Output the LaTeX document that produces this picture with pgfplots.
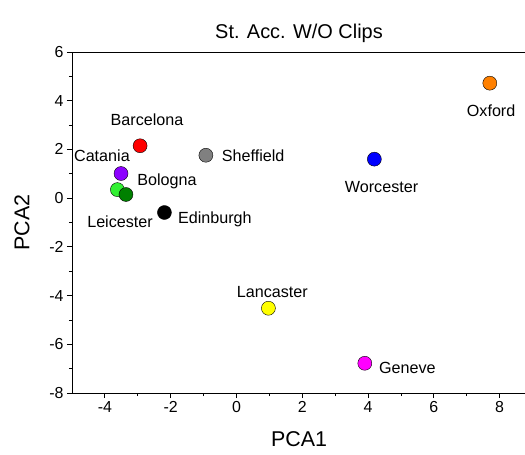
\documentclass[border=0pt]{standalone}
\usepackage{pgfplots}
\pgfplotsset{compat=1.18}
\usepackage{fontspec}
\setmainfont{Liberation Sans}
\begin{document}
\begin{tikzpicture}
\useasboundingbox (-72bp,-62bp) rectangle (453bp,393bp);
\begin{axis}[
  at={(0,0)}, anchor=south west,
  scale only axis, width=454bp, height=341bp,
  xmin=-5, xmax=8.8, ymin=-8, ymax=6,
  xtick={-4,-2,...,8}, ytick={-8,-6,...,6},
  minor x tick num=1, minor y tick num=1,
  xtick pos=bottom, ytick pos=left,
  tick align=outside,
  major tick length=5bp, minor tick length=3bp,
  tick style={black, line width=0.8pt},
  axis line style={line width=0.9pt},
  tick label style={font=\fontsize{16}{19}\selectfont},
  /pgf/number format/assume math mode=true,
  xlabel={PCA1}, ylabel={PCA2},
  label style={font=\fontsize{21.5}{25}\selectfont},
  xlabel style={at={(axis description cs:0.5,0)}, anchor=center, yshift=-46bp},
  ylabel style={at={(axis description cs:0,0.5)}, anchor=center, yshift=50bp},
  title={St. Acc. W/O Clips},
  title style={font=\fontsize{20}{23}\selectfont, at={(axis description cs:0.5,1)}, anchor=center, yshift=13bp},
  every axis plot/.append style={only marks, mark=*, mark size=7bp, mark options={draw=black, line width=0.6pt}},
]
\addplot[mark options={fill=red}] coordinates {(-2.93,2.15)};
\addplot[mark options={fill={rgb,255:red,140;green,0;blue,255}}] coordinates {(-3.51,1.01)};
\addplot[mark options={fill={rgb,255:red,50;green,240;blue,50}}] coordinates {(-3.62,0.35)};
\addplot[mark options={fill={rgb,255:red,0;green,128;blue,0}}] coordinates {(-3.36,0.15)};
\addplot[mark options={fill=black}] coordinates {(-2.19,-0.59)};
\addplot[mark options={fill={rgb,255:red,128;green,128;blue,128}}] coordinates {(-0.93,1.76)};
\addplot[mark options={fill={rgb,255:red,0;green,0;blue,255}}] coordinates {(4.19,1.60)};
\addplot[mark options={fill={rgb,255:red,255;green,128;blue,0}}] coordinates {(7.70,4.72)};
\addplot[mark options={fill={rgb,255:red,255;green,255;blue,0}}] coordinates {(0.97,-4.52)};
\addplot[mark options={fill={rgb,255:red,255;green,0;blue,255}}] coordinates {(3.90,-6.78)};
\begin{scope}[every node/.style={font=\fontsize{16.2}{19}\selectfont, inner sep=0pt}]
\node at (axis cs:-2.72,3.21) {Barcelona};
\node at (axis cs:-4.09,1.76) {Catania};
\node[anchor=west] at (axis cs:-3.02,0.69) {Bologna};
\node at (axis cs:-3.54,-0.95) {Leicester};
\node[anchor=west] at (axis cs:-1.78,-0.85) {Edinburgh};
\node[anchor=west] at (axis cs:-0.45,1.76) {Sheffield};
\node at (axis cs:4.41,0.45) {Worcester};
\node at (axis cs:7.74,3.60) {Oxford};
\node at (axis cs:1.09,-3.84) {Lancaster};
\node[anchor=west] at (axis cs:4.33,-6.98) {Geneve};
\end{scope}
\end{axis}
\end{tikzpicture}
\end{document}
